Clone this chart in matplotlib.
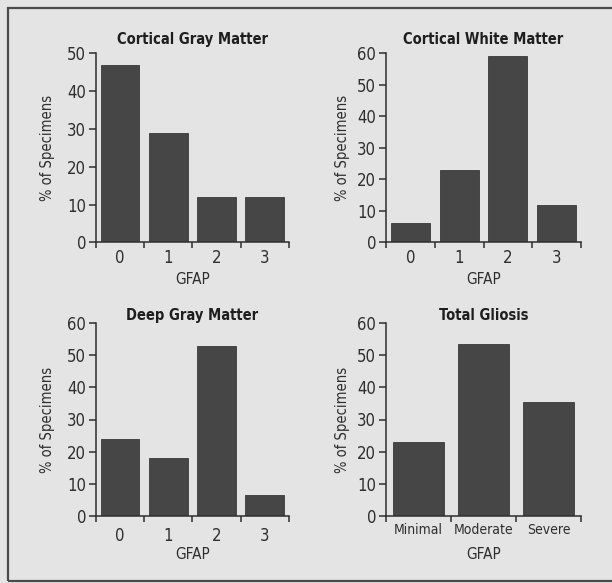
import matplotlib
matplotlib.use("Agg")
import matplotlib.pyplot as plt
from matplotlib import font_manager as fm
from matplotlib.patches import Rectangle

# Values (% of specimens)
gfap_levels = ["0", "1", "2", "3"]
gliosis_levels = ["Minimal", "Moderate", "Severe"]

cortical_gray = [47, 29, 12, 12]
cortical_white = [6, 23, 59, 12]
deep_gray = [24, 18, 53, 6.5]
total_gliosis = [23, 53.5, 35.5]

panels = [
    ("Cortical Gray Matter", gfap_levels, cortical_gray, 50),
    ("Cortical White Matter", gfap_levels, cortical_white, 60),
    ("Deep Gray Matter", gfap_levels, deep_gray, 60),
    ("Total Gliosis", gliosis_levels, total_gliosis, 60),
]

W, H = 612, 583
BG = "#e4e4e4"
BAR = "#464646"
INK = "#2e2e2e"

# narrow face if there is one, else condensed DejaVu
installed = {f.name for f in fm.fontManager.ttflist}
if "Liberation Sans Narrow" in installed:
    plt.rcParams["font.family"] = ["Liberation Sans Narrow", "DejaVu Sans"]
else:
    plt.rcParams["font.family"] = ["DejaVu Sans"]
    plt.rcParams["font.stretch"] = "condensed"

fig = plt.figure(figsize=(W / 100, H / 100), dpi=100, facecolor=BG)

# axes boxes in pixels: left, right, top, bottom
boxes = [
    (96, 288.7, 53.3, 242.3),
    (386, 581, 53.3, 242.3),
    (96, 288.7, 323.3, 515.7),
    (386, 581, 323.3, 515.7),
]
title_pad = [7, 7, 1, 1]
xtick_pad = [5, 5, 8, 5]
ylabel_off = [41, 36.5, 41, 36.5]
xlabel_off = [29.5, 29.5, 31, 31]

for (title, cats, vals, ymax), (l, r, t, b), tp, xp, yo, xo in zip(
        panels, boxes, title_pad, xtick_pad, ylabel_off, xlabel_off):
    ax = fig.add_axes([l / W, 1 - b / H, (r - l) / W, (b - t) / H])
    ax.set_facecolor(BG)
    n = len(cats)
    width = 0.8 if n == 4 else 0.77
    ax.bar(range(n), vals, width=width, color=BAR, edgecolor="#383838", linewidth=0.6)
    ax.set_xlim(-0.5, n - 0.5)
    ax.set_ylim(0, ymax)
    ax.set_yticks(range(0, ymax + 1, 10))
    ax.set_xticks(range(n))
    ax.set_xticklabels(cats, fontsize=12 if n == 4 else 10)
    ax.set_xticks([i - 0.5 for i in range(n + 1)], minor=True)
    ax.tick_params(axis="x", which="major", length=0, pad=xp, colors=INK)
    ax.tick_params(axis="x", which="minor", length=4, width=1.1, color=INK)
    ax.tick_params(axis="y", length=5, width=1.1, pad=2, labelsize=12, colors=INK)
    for side in ("top", "right"):
        ax.spines[side].set_visible(False)
    for side in ("left", "bottom"):
        ax.spines[side].set_linewidth(1.1)
        ax.spines[side].set_color(INK)
    ax.set_title(title, fontsize=10.5, fontweight="bold", color="#1e1e1e", pad=tp)
    ax.set_ylabel("% of Specimens", fontsize=10.5, color=INK)
    ax.set_xlabel("GFAP", fontsize=11, color=INK)
    ax.yaxis.set_label_coords(-yo / (r - l), 0.5)
    ax.xaxis.set_label_coords(0.5, -xo / (b - t))

# outer frame (open on the right edge)
fig.add_artist(Rectangle((8 / W, 1 - 581 / H), 700 / W, (581 - 8) / H,
                         transform=fig.transFigure, fill=False,
                         edgecolor="#4a4a4a", linewidth=1.6))

fig.savefig("out.png", dpi=100, facecolor=BG)
